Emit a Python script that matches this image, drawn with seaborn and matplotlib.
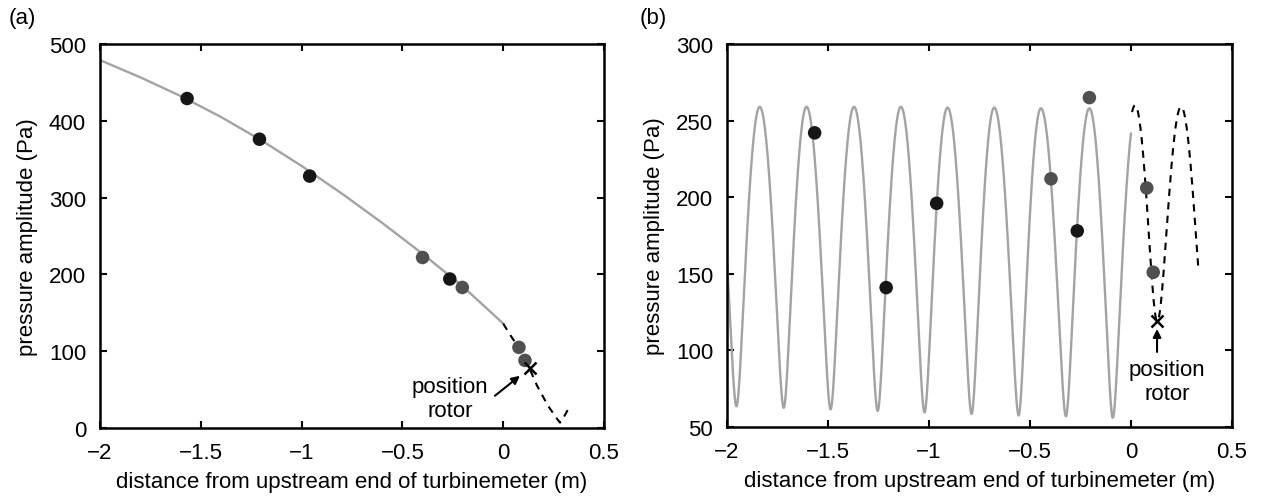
import numpy as np
import pandas as pd
import matplotlib
matplotlib.use("Agg")
import matplotlib.pyplot as plt
import seaborn as sns

# ---------------- data ----------------
# Panel (a): model curve (solid grey, upstream) and (dashed, inside meter)
a_line_x = [-2.0, -1.8, -1.6, -1.4, -1.2, -1.0, -0.8, -0.6, -0.4, -0.2, 0.0]
a_line_y = [479, 456.6, 432.2, 405.0, 374.6, 341.2, 305.2, 267.0, 226.8, 184.2, 136.0]
a_dash_x = [0.0, 0.03, 0.078, 0.108, 0.133, 0.168, 0.222, 0.267, 0.282, 0.3, 0.321, 0.335]
a_dash_y = [136, 123, 104, 88, 76, 55, 29, 12, 7, 14, 24, 28]
a_black_x = [-1.568, -1.209, -0.96, -0.265]
a_black_y = [429, 376, 328, 194]
a_grey_x = [-0.40, -0.203, 0.078, 0.108]
a_grey_y = [222, 183, 105, 88]
a_rotor = (0.131, 78)

# Panel (b): extrema of the standing-wave curve (solid grey) and dashed curve
b_ext_x = [-2.073, -1.953, -1.838, -1.719, -1.606, -1.487, -1.371, -1.254,
           -1.139, -1.022, -0.908, -0.789, -0.677, -0.556, -0.446, -0.322,
           -0.206, -0.09, 0.027]
b_ext_y = [260, 63.5, 259, 62.5, 259, 61.5, 259, 60.5, 259, 59.5, 258.5, 58.5,
           258.5, 57.5, 258, 57, 258, 56, 258]
b_line_range = (-2.0, 0.0)
b_dash_ext_x = [-0.09, 0.02, 0.13, 0.248, 0.366]
b_dash_ext_y = [120, 260, 119, 259, 119]
b_dash_range = (0.005, 0.335)
b_black_x = [-1.566, -1.212, -0.962, -0.266]
b_black_y = [242, 141, 196, 178]
b_grey_x = [-0.206, -0.396, 0.078, 0.11]
b_grey_y = [265, 212, 206, 151]
b_rotor = (0.129, 119)

xticks = [-2, -1.5, -1, -0.5, 0, 0.5]
xtick_labels = ["\u22122", "\u22121.5", "\u22121", "\u22120.5", "0", "0.5"]
a_yticks = [0, 100, 200, 300, 400, 500]
b_yticks = [50, 100, 150, 200, 250, 300]
xlabel = "distance from upstream end of turbinemeter (m)"
ylabel = "pressure amplitude (Pa)"


def trace(ext_x, ext_y, lo, hi, n=60):
    """Draw a smooth curve through successive extrema (standing-wave shape)."""
    xs, ys = [], []
    for i in range(len(ext_x) - 1):
        x0, x1 = ext_x[i], ext_x[i + 1]
        y0, y1 = ext_y[i], ext_y[i + 1]
        t = np.linspace(0, 1, n, endpoint=False)
        w = (1 - np.cos(np.pi * t)) / 2
        y2 = y0 ** 2 + (y1 ** 2 - y0 ** 2) * w
        xs.append(x0 + (x1 - x0) * t)
        ys.append(np.sqrt(y2))
    xs = np.concatenate(xs)
    ys = np.concatenate(ys)
    m = (xs >= lo) & (xs <= hi)
    return pd.DataFrame({"x": xs[m], "y": ys[m]})


sns.set_style("ticks")
plt.rcParams["font.family"] = ["Liberation Sans", "DejaVu Sans"]
plt.rcParams["axes.linewidth"] = 1.8
plt.rcParams["text.color"] = "black"
plt.rcParams["axes.labelcolor"] = "black"

fig = plt.figure(figsize=(12.61, 5.02), dpi=100)
axA = fig.add_axes([0.0793, 0.1454, 0.3997, 0.765])
axB = fig.add_axes([0.5765, 0.1474, 0.4005, 0.763])

GREY_LINE = "#a3a3a3"
DOT_BLACK = "#161616"
DOT_GREY = "#505050"
FS = 16

# ---- panel (a)
sns.lineplot(data=pd.DataFrame({"x": a_line_x, "y": a_line_y}), x="x", y="y",
             ax=axA, color=GREY_LINE, lw=1.7, sort=False)
sns.lineplot(data=pd.DataFrame({"x": a_dash_x, "y": a_dash_y}), x="x", y="y",
             ax=axA, color="black", lw=1.5, sort=False)
axA.lines[-1].set_dashes((3.5, 3))
sns.scatterplot(x=a_black_x, y=a_black_y, ax=axA, color=DOT_BLACK, s=95,
                edgecolor="none", zorder=5)
sns.scatterplot(x=a_grey_x, y=a_grey_y, ax=axA, color=DOT_GREY, s=95,
                edgecolor="none", zorder=5)
axA.plot([a_rotor[0]], [a_rotor[1]], marker="x", color="black", ms=9, mew=1.8,
         zorder=6)
axA.annotate("", xy=(0.083, 68), xytext=(-0.041, 42),
             arrowprops=dict(arrowstyle="-|>", color="black", lw=1.5,
                             mutation_scale=12, shrinkA=0, shrinkB=0))
axA.text(-0.264, 38, "position\nrotor", ha="center", va="center",
         fontsize=FS, linespacing=1.2)
axA.set_xlim(-2, 0.5)
axA.set_ylim(0, 500)
axA.set_yticks(a_yticks)
axA.set_yticklabels([str(v) for v in a_yticks])

# ---- panel (b)
sns.lineplot(data=trace(b_ext_x, b_ext_y, *b_line_range), x="x", y="y",
             ax=axB, color=GREY_LINE, lw=1.7, sort=False)
sns.lineplot(data=trace(b_dash_ext_x, b_dash_ext_y, *b_dash_range), x="x", y="y",
             ax=axB, color="black", lw=1.5, sort=False)
axB.lines[-1].set_dashes((3.5, 3))
sns.scatterplot(x=b_black_x, y=b_black_y, ax=axB, color=DOT_BLACK, s=95,
                edgecolor="none", zorder=5)
sns.scatterplot(x=b_grey_x, y=b_grey_y, ax=axB, color=DOT_GREY, s=95,
                edgecolor="none", zorder=5)
axB.plot([b_rotor[0]], [b_rotor[1]], marker="x", color="black", ms=8, mew=1.8,
         zorder=6)
axB.annotate("", xy=(0.129, 114), xytext=(0.129, 99),
             arrowprops=dict(arrowstyle="-|>", color="black", lw=1.5,
                             mutation_scale=12, shrinkA=0, shrinkB=0))
axB.text(0.178, 79.5, "position\nrotor", ha="center", va="center",
         fontsize=FS, linespacing=1.2)
axB.set_xlim(-2, 0.5)
axB.set_ylim(50, 300)
axB.set_yticks(b_yticks)
axB.set_yticklabels([str(v) for v in b_yticks])

for ax in (axA, axB):
    ax.set_xticks(xticks)
    ax.set_xticklabels(xtick_labels)
    ax.tick_params(direction="in", top=True, right=True, length=5, width=1.5,
                   labelsize=FS, pad=10, colors="black")
    ax.set_xlabel(xlabel, fontsize=FS, labelpad=6)
    ax.set_ylabel(ylabel, fontsize=FS, labelpad=8)
    for sp in ax.spines.values():
        sp.set_visible(True)
        sp.set_color("black")
        sp.set_linewidth(1.8)

fig.text(0.0065, 0.985, "(a)", fontsize=FS, ha="left", va="top")
fig.text(0.5075, 0.985, "(b)", fontsize=FS, ha="left", va="top")

fig.savefig("out.png", dpi=100)
